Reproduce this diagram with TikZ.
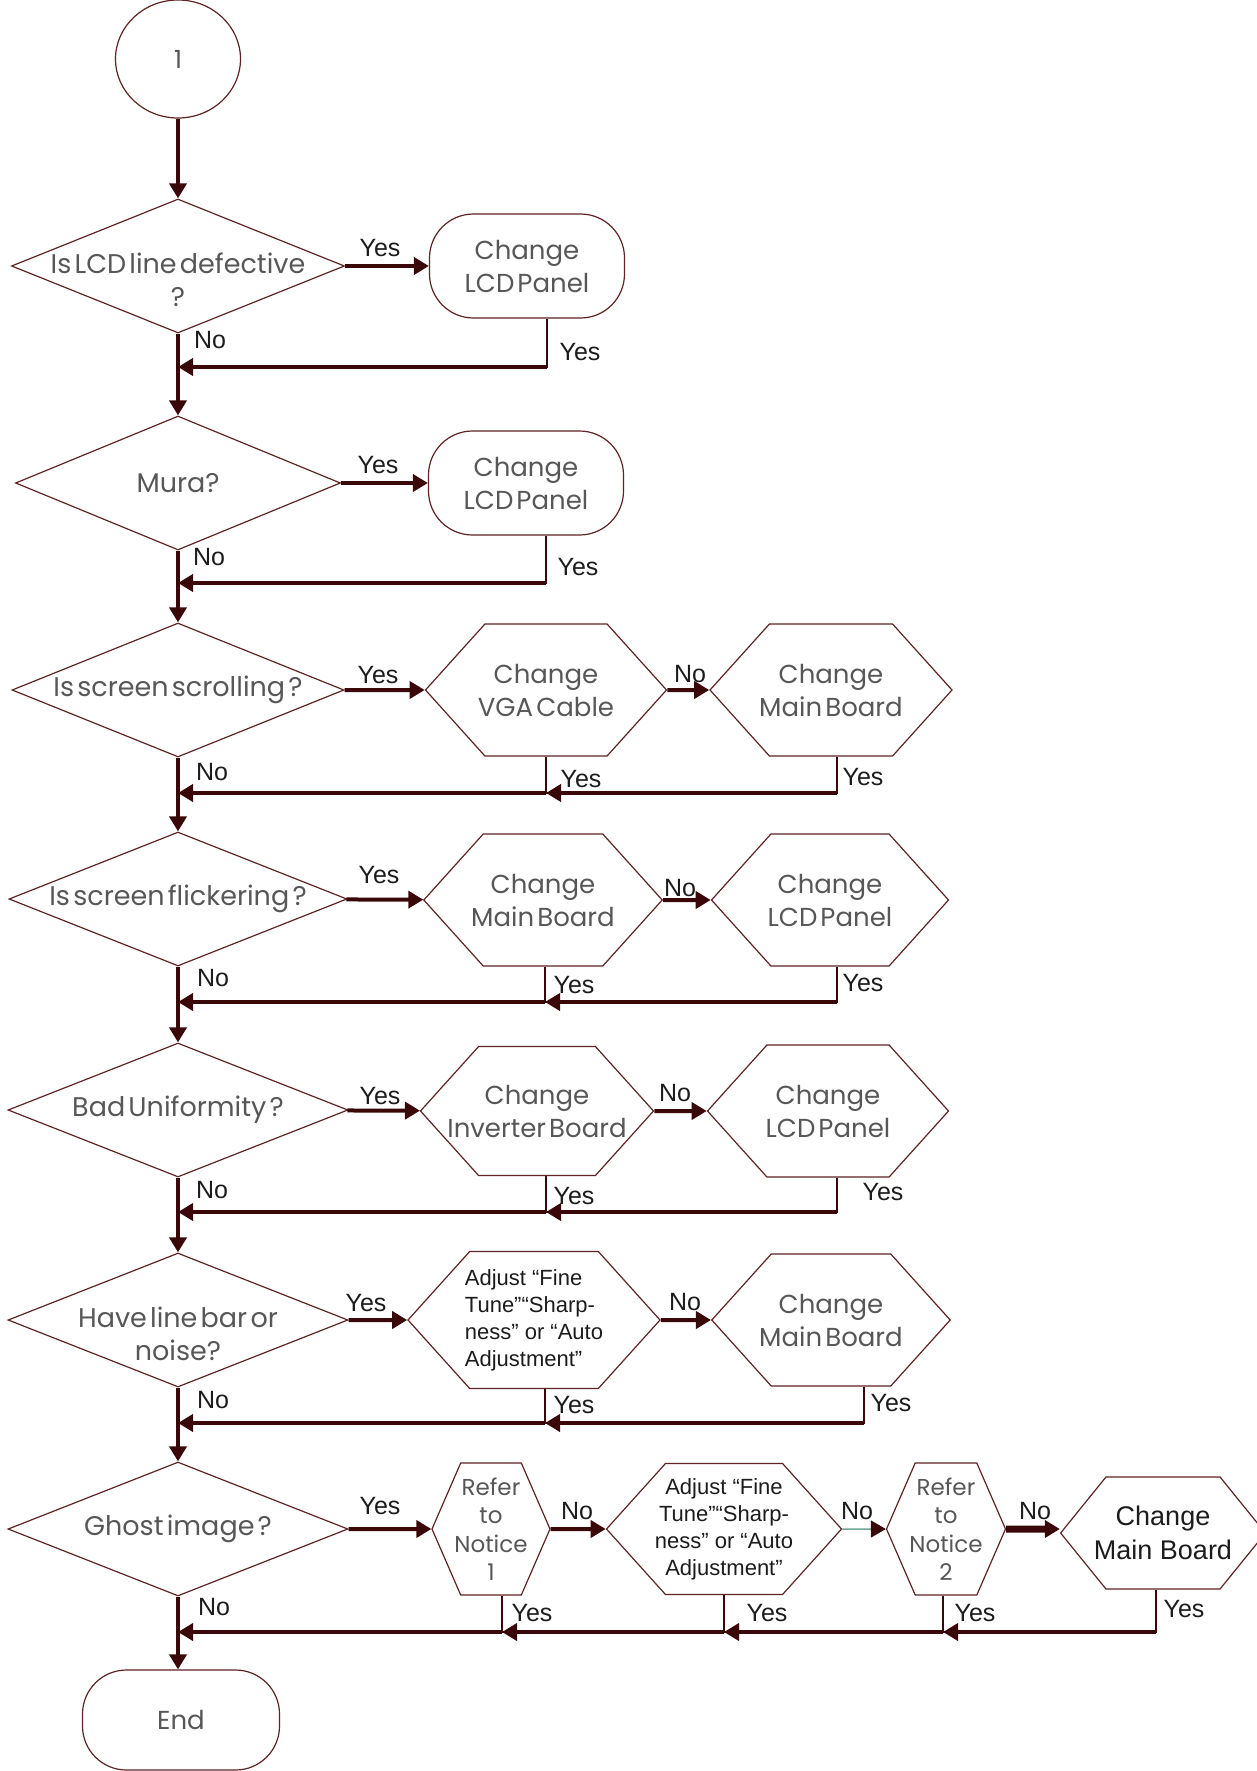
\documentclass[tikz,border=0pt]{standalone}
\usepackage{fontspec}
\usepackage{tikz}
\usetikzlibrary{arrows.meta,shapes.geometric,shapes.symbols}
\newfontfamily\boxfont{Poppins}
\newfontfamily\tagfont{Liberation Sans}
\definecolor{FlowBrown}{HTML}{3A0808}
\definecolor{EdgeBrown}{HTML}{5E2323}
\definecolor{BoxGrey}{HTML}{575757}
\definecolor{TagBlack}{HTML}{1C1C1C}
\definecolor{LinkTeal}{HTML}{6FA595}

\begin{document}
\begin{tikzpicture}[x=1pt,y=-1pt,
    round/.style={ellipse,draw=EdgeBrown,line width=1.2pt,minimum width=125pt,minimum height=118pt,text=BoxGrey,font=\boxfont\fontsize{25}{30}\selectfont},
    term/.style={rectangle,rounded corners=44pt,draw=EdgeBrown,line width=1.2pt,minimum width=197pt,minimum height=100pt,text=BoxGrey,font=\boxfont\fontsize{26}{30}\selectfont},
    panel/.style={term,minimum width=195pt,minimum height=104pt,align=center,font={\boxfont\fontsize{26}{33}\selectfont\spaceskip=.12em\relax}},
    qtext/.style={align=center,text=BoxGrey,font={\boxfont\fontsize{27}{33}\selectfont\spaceskip=.12em\relax}},
    htext/.style={qtext,font={\boxfont\fontsize{26}{33}\selectfont\spaceskip=.12em\relax}},
    decision/.style 2 args={diamond,draw=EdgeBrown,line width=1.2pt,minimum height=134pt,inner sep=0pt,label={[qtext,yshift=#2]center:#1}},
    change/.style={signal,signal to=west and east,signal pointer angle=96,draw=EdgeBrown,line width=1.2pt,minimum width=240pt,minimum height=132pt,inner ysep=0pt,inner xsep=-12pt,align=center,text=BoxGrey,font={\boxfont\fontsize{26}{33}\selectfont\spaceskip=.12em\relax}},
    refer/.style={change,signal pointer angle=133,minimum width=118pt,font=\boxfont\fontsize{23}{28.5}\selectfont},
    adjust/.style={change,text=TagBlack,font=\tagfont\fontsize{22}{27}\selectfont},
    flow/.style={line width=4pt,color=FlowBrown,-{Triangle[length=15pt,width=17pt]}},
    link/.style={flow,line width=1.5pt,color=LinkTeal,-{Triangle[length=15pt,width=17pt,color=FlowBrown]}},
    drop/.style={line width=1.6pt,color=FlowBrown},
    tag/.style={inner sep=0pt,text=TagBlack,font=\tagfont\fontsize{25}{25}\selectfont}
  ]
  \useasboundingbox (0,0) rectangle (1257,1771);

  % main column
  \node[round] (s) at (178,59) {1};
  \foreach \name/\y/\w/\dy/\txt in {d1/266/333/-14pt/{Is LCD line defective\\?},d2/483/325/0pt/{Mura?},
      d3/690/332/0pt/{Is screen scrolling ?},d4/899/338/0pt/{Is screen flickering ?},
      d5/1110/340/0pt/{Bad Uniformity ?},d6/1320/340/-14pt/{Have line bar or\\noise?},d7/1529/340/0pt/{Ghost image ?}}
    \node[decision={\txt}{\dy},minimum width=\w pt] (\name) at (178,\y) {};
  \node[term] (e) at (181,1720) {End};
  \draw[flow] (s) -- (d1);
  \foreach \a/\b in {d1/d2,d2/d3,d3/d4,d4/d5,d5/d6,d6/d7}
    \draw[flow] (\a) -- (\b);
  \draw[flow] (d7.south) -- (d7.south |- e.north);

  % repair steps
  \node[panel] (c1) at (527,266) {Change\\LCD Panel};
  \node[panel] (c2) at (526,483) {Change\\LCD Panel};
  \node[change,minimum width=241pt] (h3a) at (546,690) {Change\\VGA Cable};
  \node[change,minimum width=242pt] (h3b) at (831,690) {Change\\Main Board};
  \node[change,minimum width=234pt] (h4a) at (543,900) {Change\\Main Board};
  \node[change,minimum width=237pt] (h4b) at (830,900) {Change\\LCD Panel};
  \node[change,minimum width=233pt,minimum height=129pt,label={[htext]center:{Change\\Inverter Board}}] (h5a) at (537,1111) {};
  \node[change,minimum width=241pt] (h5b) at (828,1111) {Change\\LCD Panel};
  \node[adjust,align=left,minimum width=252pt,minimum height=137pt] (h6a) at (534,1320) {Adjust “Fine\\Tune”“Sharp-\\ness” or “Auto\\Adjustment”};
  \node[change,minimum width=236pt] (h6b) at (831,1320) {Change\\Main Board};
  \node[refer] (n1) at (491,1529) {Refer\\to\\Notice\\1};
  \node[adjust,minimum width=235pt,minimum height=131pt] (a7) at (724,1529) {Adjust “Fine\\Tune”“Sharp-\\ness” or “Auto\\Adjustment”};
  \node[refer,minimum width=119pt] (n2) at (946,1529) {Refer\\to\\Notice\\2};
  \node[change,signal pointer angle=102,minimum width=192pt,minimum height=112pt,text=TagBlack,font=\tagfont\fontsize{27}{34}\selectfont] (g7) at (1163,1533) {Change\\Main Board};

  \foreach \a/\b in {d1/c1,d2/c2,d3/h3a,h3a/h3b,d4/h4a,h4a/h4b,d5/h5a,h5a/h5b,d6/h6a,h6a/h6b,d7/n1,n1/a7}
    \draw[flow] (\a) -- (\b);
  \draw[link] (a7) -- (n2);
  \draw[flow,line width=7pt] (n2) -- (n2 -| g7.west);

  % way back to the main column
  \foreach \name/\x/\y in {m1/178/367,m2/178/583,m3/178/793,m4/178/1002,m5/178/1212,m6/178/1423,m7/178/1632,
      j3/546/793,j4/545/1002,j5/546/1212,j6/545/1423,k1/502/1632,k2/724/1632,k3/943/1632}
    \coordinate (\name) at (\x,\y);
  \foreach \from/\dx/\to in {c1/20/m1,c2/20/m2,h3a/0/m3,h3b/6/j3,h4a/2/m4,h4b/7/j4,h5a/9/m5,h5b/9/j5,
      h6a/11/m6,h6b/33/j6,n1/11/m7,a7/0/k1,n2/-3/k2,g7/-7/k3}
  {
    \coordinate (t) at ([xshift=\dx pt]\from.south);
    \draw[drop] (t) |- (\to);
    \draw[flow] (t |- \to) -- (\to);
  }

  % answers
  \foreach \x/\y/\t [count=\i] in {380/248/Yes,580/352/Yes,210/340/No,
      378/465/Yes,578/567/Yes,209/557/No,
      378/675/Yes,690/674/No,581/779/Yes,863/777/Yes,212/772/No,
      379/875/Yes,680/888/No,574/985/Yes,863/983/Yes,213/978/No,
      380/1096/Yes,675/1093/No,574/1196/Yes,883/1192/Yes,212/1190/No,
      366/1303/Yes,685/1302/No,574/1405/Yes,891/1403/Yes,213/1400/No,
      380/1506/Yes,577/1511/No,857/1511/No,1035/1511/No,
      532/1613/Yes,767/1613/Yes,975/1613/Yes,1184/1609/Yes,214/1607/No}
    \node[tag] (tag\i) at (\x,\y) {\t};
\end{tikzpicture}
\end{document}
